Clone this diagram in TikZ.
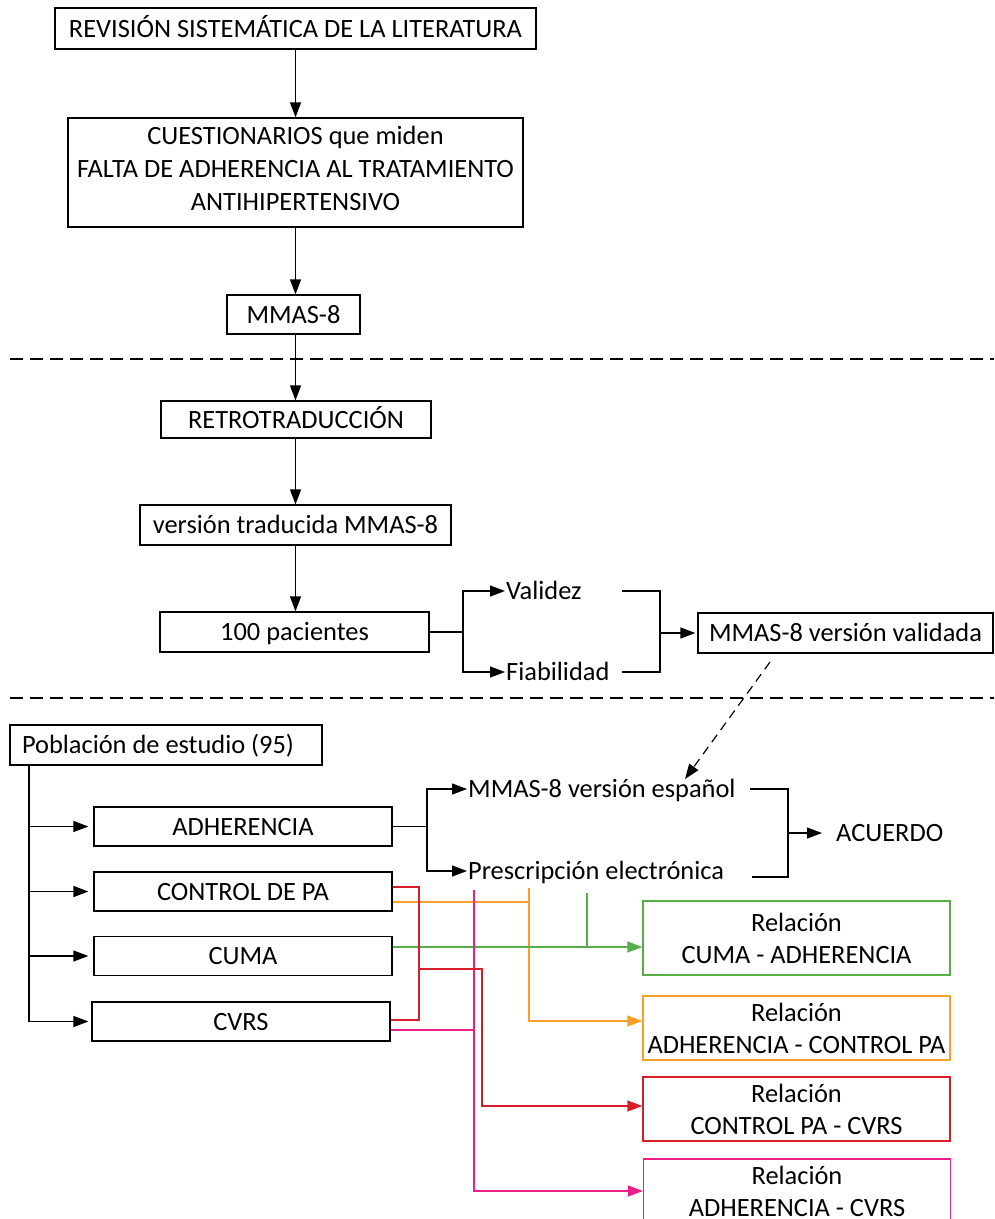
\documentclass[tikz,border=0pt]{standalone}
\usepackage{fontspec}
\setmainfont{Carlito}
\usetikzlibrary{arrows.meta,calc}
\definecolor{cgreen}{RGB}{85,175,70}
\definecolor{corange}{RGB}{248,160,40}
\definecolor{cred}{RGB}{215,30,40}
\definecolor{cpink}{RGB}{236,30,140}
\begin{document}
\begin{tikzpicture}[x=1pt,y=-1pt,
  every node/.style={font=\fontsize{26.4}{32}\selectfont, text=black},
  box/.style={draw, line width=1.3pt, inner sep=0pt, align=center},
  sl/.style={text height=20pt, text depth=3pt},
  ln/.style={line width=1.3pt},
  arr/.style={ln, -{Triangle[length=15pt,width=11pt]}},
  lbl/.style={inner sep=1pt, anchor=west},
  hdash/.style={line width=1.3pt, dash pattern=on 13pt off 7pt},
  ddash/.style={line width=1.2pt, dash pattern=on 9pt off 6pt, -{Triangle[length=15pt,width=11pt]}},
  rbox/.style={box, minimum width=307pt, minimum height=64pt},
  lbox/.style={box, sl, minimum width=298pt, minimum height=39pt},
]
\clip (0,0) rectangle (994,1219);

% upper part
\node[box, sl, minimum width=481pt, minimum height=41pt] (rev) at (295.5,28.5) {REVISIÓN SISTEMÁTICA DE LA LITERATURA};
\node[box, font=\fontsize{26.4}{33}\selectfont, minimum width=455pt, minimum height=109pt] (cues) at (295.5,172.5) {CUESTIONARIOS que miden\\FALTA DE ADHERENCIA AL TRATAMIENTO\\ANTIHIPERTENSIVO\rule[-8pt]{0pt}{8pt}};
\node[box, sl, minimum width=133pt, minimum height=39pt] (mmas) at (293.5,314.5) {MMAS-8};
\node[box, sl, minimum width=270pt, minimum height=37pt] (retro) at (296,419.5) {RETROTRADUCCIÓN};
\node[box, sl, minimum width=311pt, minimum height=40pt] (vers) at (295.5,525) {versión traducida MMAS-8};
\node[box, sl, minimum width=269pt, minimum height=40pt] (pac) at (294.5,632) {100 pacientes};
\node[lbl, sl] (val) at (505,591) {Validez};
\node[lbl, sl] (fia) at (505,672) {Fiabilidad};
\node[box, sl, minimum width=295pt, minimum height=40pt] (valid) at (845.5,633) {MMAS-8 versión validada};

\draw[arr] (rev.south) -- (rev.south |- cues.north);
\draw[arr] (cues.south) -- (cues.south |- mmas.north);
\draw[arr] (mmas.south -| cues.south) -- (retro.north -| cues.south);
\draw[arr] (retro.south -| cues.south) -- (vers.north -| cues.south);
\draw[arr] (vers.south -| cues.south) -- (pac.north -| cues.south);

\coordinate (j1) at (463,632);
\draw[ln] (pac.east) -- (j1);
\draw[arr] (j1) |- (val.west);
\draw[arr] (j1) |- (fia.west);
\coordinate (vb) at (622,591);
\coordinate (fb) at (622,672);
\coordinate (b1) at (660,633);
\draw[ln] (vb) -| (b1) |- (fb);
\draw[arr, shorten >=2pt] (b1) -- (valid.west);

% separators
\coordinate (s1a) at (10,359); \coordinate (s1b) at (994,359);
\coordinate (s2a) at (10,698); \coordinate (s2b) at (994,698);
\draw[hdash] (s1a) -- (s1b);
\draw[hdash] (s2a) -- (s2b);

% lower part
\node[box, sl, minimum width=312pt, minimum height=40pt] (pob) at (166,745) {\makebox[288pt][l]{Población de estudio (95)}};
\node[lbox] (adh) at (243,826.5) {ADHERENCIA};
\node[lbox] (ctrl) at (243,891.5) {CONTROL DE PA};
\node[lbox] (cuma) at (243,956) {CUMA};
\node[lbox] (cvrs) at (241,1021.5) {CVRS};
\node[lbl, sl] (esp) at (467,789) {MMAS-8 versión español};
\node[lbl, sl] (presc) at (467,871) {Prescripción electrónica};
\node[lbl, sl] (acu) at (835,833) {ACUERDO};

\node[box, draw=cgreen, minimum width=307pt, minimum height=74pt] (rg) at (796.5,938) {Relación\\CUMA - ADHERENCIA};
\node[rbox, draw=corange] (ro) at (796.5,1028) {Relación\\ADHERENCIA - CONTROL PA};
\node[rbox, draw=cred] (rr) at (796.5,1109) {Relación\\CONTROL PA - CVRS};
\node[rbox, draw=cpink] (rp) at (797,1191) {Relación\\ADHERENCIA - CVRS};

% dashed link
\coordinate (ds) at (770,662);
\coordinate (de) at (685,779);
\draw[ddash] (ds) -- (de);

% population trunk
\coordinate (t0) at (29,765);
\draw[arr, shorten >=5pt] (t0) |- (adh.west);
\draw[arr, shorten >=5pt] (t0) |- (ctrl.west);
\draw[arr, shorten >=5pt] (t0) |- (cuma.west);
\draw[arr, shorten >=3pt] (t0) |- (cvrs.west);

% adherencia branch
\coordinate (j2) at (427,826.5);
\draw[ln] (adh.east) -- (j2);
\draw[arr] (j2) |- (esp.west);
\draw[arr] (j2) |- (presc.west);
\coordinate (eb) at (750,789);
\coordinate (pb) at (752,877);
\coordinate (b2) at (788,833);
\draw[ln] (eb) -| (b2) |- (pb);
\draw[arr, shorten >=13pt] (b2) -- (acu.west);

% coloured connectors
\coordinate (o0) at (529,888); \coordinate (o1) at (529,902); \coordinate (o2) at (529,1021);
\draw[ln, corange] (ctrl.east |- o1) -- (o1);
\draw[arr, corange] (o0) -- (o2) -- (ro.west |- o2);

\coordinate (g0) at (587,893); \coordinate (g1) at (587,947);
\draw[arr, cgreen] (cuma.east |- g1) -- (rg.west |- g1);
\draw[ln, cgreen] (g0) -- (g1);

\coordinate (p0) at (474,890); \coordinate (p1) at (474,1030); \coordinate (p2) at (474,1191);
\draw[ln, cpink] (cvrs.east |- p1) -- (p1);
\draw[arr, cpink] (p0) -- (p2) -- (rp.west |- p2);

\coordinate (r0) at (419,887); \coordinate (r1) at (419,969);
\coordinate (r3) at (419,1020); \coordinate (r2) at (482,1106);
\draw[ln, cred] (ctrl.east |- r0) -- (r0) -- (r3) -- (cvrs.east |- r3);
\draw[arr, cred] (r1) -| (r2) -- (rr.west |- r2);
\end{tikzpicture}
\end{document}
